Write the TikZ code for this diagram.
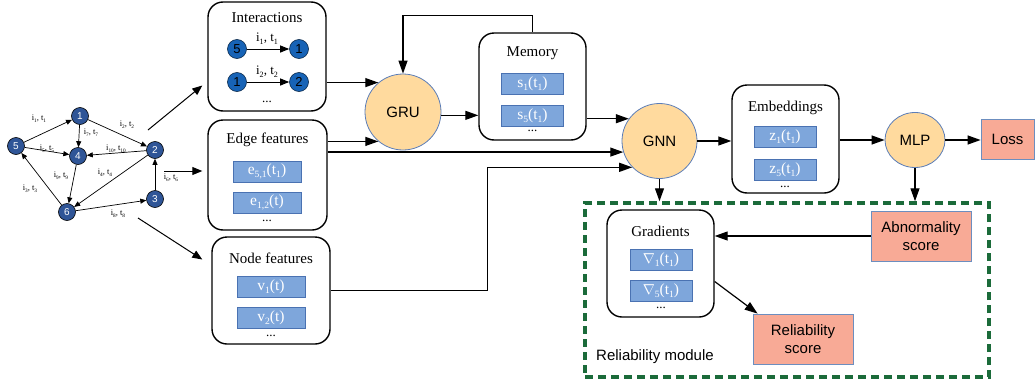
\documentclass[tikz,border=0pt]{standalone}
\usepackage{fontspec}
\setmainfont{Liberation Serif}
\setsansfont{Liberation Sans}
\usetikzlibrary{arrows.meta,calc,shapes.geometric}

\definecolor{featfill}{HTML}{7EA6DB}
\definecolor{featline}{HTML}{4A72B2}
\definecolor{opfill}{HTML}{FFDA9E}
\definecolor{opline}{HTML}{5B7DB8}
\definecolor{scorefill}{HTML}{F8AA96}
\definecolor{scoreline}{HTML}{6C8EBF}
\definecolor{gnode}{HTML}{2F5597}
\definecolor{inode}{HTML}{1763B6}
\definecolor{modgreen}{HTML}{1B6B3A}

% low, small subscript
\newcommand\sbx[1]{\raisebox{-0.45ex}{\scalebox{0.62}{#1}}}

\tikzset{
  panel/.style={draw, line width=1.4pt, rounded corners=15pt, fill=white},
  ptitle/.style={font=\fontsize{15}{18}\selectfont, inner sep=0pt},
  feat/.style={draw=featline, line width=0.8pt, fill=featfill, text=white,
    font=\fontsize{15.5}{18}\selectfont, minimum width=62, minimum height=21, inner sep=0pt},
  op/.style={circle, draw=opline, line width=0.8pt, fill=opfill, minimum size=76,
    inner sep=0pt, font=\sffamily\fontsize{15}{18}\selectfont},
  score/.style={draw=scoreline, line width=0.8pt, fill=scorefill, minimum width=100,
    minimum height=50, align=center, font=\sffamily\fontsize{15}{18}\selectfont},
  gv/.style={circle, draw=black, line width=0.6pt, fill=gnode, text=white,
    minimum size=17, inner sep=0pt, font=\sffamily\fontsize{10}{12}\selectfont},
  iv/.style={circle, draw=black!60!inode, line width=0.6pt, fill=inode,
    minimum size=19, inner sep=0pt, font=\sffamily\fontsize{13}{15}\selectfont},
  elab/.style={font=\fontsize{8.5}{10}\selectfont, inner sep=0.5pt},
  ilab/.style={font=\fontsize{13}{15}\selectfont, inner sep=0pt},
  dotsl/.style={font=\fontsize{13}{15}\selectfont, inner sep=0pt},
  arr/.style={line width=1.2pt, -{Triangle[length=13pt,width=9pt]}},
  iarr/.style={line width=0.9pt, -{Triangle[length=9pt,width=7pt]}},
  garr/.style={line width=0.7pt, -{Triangle[length=6pt,width=5pt]}},
  modbox/.style={draw=modgreen, line width=3.5pt, dash pattern=on 8pt off 5pt},
}

\begin{document}
\begin{tikzpicture}[x=1pt, y=-1pt]
\path[use as bounding box] (0,0) rectangle (1036,383);

% ---------- temporal graph ----------
\node[gv] (n1) at (80,116) {1};
\node[gv] (n2) at (155,150) {2};
\node[gv] (n3) at (155,199) {3};
\node[gv] (n4) at (78,156) {4};
\node[gv] (n5) at (16,146) {5};
\node[gv] (n6) at (67,212) {6};

\draw[garr] (n5) -- (n1);
\draw[garr] (n1) -- (n2);
\draw[garr] (n1) -- (n4);
\draw[garr] (n5) -- (n4);
\draw[garr] (n2) -- (n4);
\draw[garr] (n2) -- (n6);
\draw[garr] (n4) -- (n6);
\draw[garr] (n6) -- (n5);
\draw[garr] (n3) -- (n2);
\draw[garr] (n6) -- (n3);

\node[elab] (l1) at (39,119) {i\sbx{1}, t\sbx{1}};
\node[elab] (l2) at (127,125) {i\sbx{2}, t\sbx{2}};
\node[elab] (l7) at (91,133) {i\sbx{7}, t\sbx{7}};
\node[elab] (l5) at (47,149) {i\sbx{5}, t\sbx{5}};
\node[elab] (l10) at (116,149) {i\sbx{10}, t\sbx{10}};
\node[elab] (l9) at (61,176) {i\sbx{9}, t\sbx{9}};
\node[elab] (l4) at (105,173) {i\sbx{4}, t\sbx{4}};
\node[elab] (l3) at (30,189) {i\sbx{3}, t\sbx{3}};
\node[elab] (l6) at (171,178) {i\sbx{6}, t\sbx{6}};
\node[elab] (l8) at (118,214) {i\sbx{8}, t\sbx{8}};

% ---------- input panels ----------
\node[panel, minimum width=118, minimum height=109] (inter) at (267,56.5) {};
\node[ptitle] (intert) at (267,18) {Interactions};
\node[iv] (a5) at (237,49) {5};
\node[iv] (a1) at (299,49) {1};
\node[iv] (b1) at (237,82) {1};
\node[iv] (b2) at (299,82) {2};
\draw[iarr] (a5) -- (a1);
\draw[iarr] (b1) -- (b2);
\node[ilab] (la) at (267,39) {i\sbx{1}, t\sbx{1}};
\node[ilab] (lb) at (267,72) {i\sbx{2}, t\sbx{2}};
\node[dotsl] (interd) at (267,102) {...};

\node[panel, minimum width=119, minimum height=110] (edge) at (267.5,175) {};
\node[ptitle] (edget) at (267.5,140) {Edge features};
\node[feat, minimum width=68] (e51) at (267,171.5) {e\sbx{5,1}(t\sbx{1})};
\node[feat, minimum width=68] (e12) at (267,202.5) {e\sbx{1,2}(t)};
\node[dotsl] (edged) at (267,221) {...};

\node[panel, minimum width=118, minimum height=107] (nodef) at (271,290.5) {};
\node[ptitle] (nodeft) at (271,258) {Node features};
\node[feat, minimum width=68] (v1) at (271,286.5) {v\sbx{1}(t)};
\node[feat, minimum width=68] (v2) at (271,318) {v\sbx{2}(t)};
\node[dotsl] (nodefd) at (271,336) {...};

% arrows from the graph to the panels
\coordinate (g1) at (148,130);
\coordinate (g2) at (164,171);
\coordinate (g3) at (138,218);
\draw[line width=1pt, -{Triangle[length=10pt,width=8pt]}] (g1) -- ($(inter.west)+(-5,29)$);
\draw[line width=1pt, -{Triangle[length=10pt,width=8pt]}] (g2) -- ($(edge.west)+(-5,-4)$);
\draw[line width=1pt, -{Triangle[length=10pt,width=8pt]}] (g3) -- ($(nodef.west)+(-9,-31)$);

% ---------- memory update ----------
\node[op] (gru) at (403,112) {GRU};
\node[panel, minimum width=107, minimum height=107] (mem) at (532.5,86.5) {};
\node[ptitle] (memt) at (532.5,53) {Memory};
\node[feat] (s1) at (532.5,83.5) {s\sbx{1}(t\sbx{1})};
\node[feat] (s5) at (532.5,115.5) {s\sbx{5}(t\sbx{1})};
\node[dotsl] (memd) at (532.5,131) {...};

\draw[arr] (inter.east |- gru.130) -- (gru.130);
\draw[arr] (edge.east |- gru.230) -- (gru.230);
\draw[arr] (gru.-5) -- (gru.-5 -| mem.west);
\draw[arr] (mem.north) -- ++(0,-17) -| (gru.north);

% ---------- embedding ----------
\node[op, minimum size=75] (gnn) at (659.5,141) {GNN};
\draw[arr] (mem.east |- gnn.144) -- (gnn.144);
\draw[arr] (edge.east |- gnn.197) -- (gnn.197);
\draw[arr] (nodef.east) -- ++(157,0) |- (gnn.224);

\node[panel, minimum width=107, minimum height=108] (emb) at (785.5,139) {};
\node[ptitle] (embt) at (785.5,108) {Embeddings};
\node[feat] (z1) at (785,136.5) {z\sbx{1}(t\sbx{1})};
\node[feat] (z5) at (785,169.5) {z\sbx{5}(t\sbx{1})};
\node[dotsl] (embd) at (785,187) {...};
\draw[arr] (gnn.east) -- (gnn.east -| emb.west);

\node[op, ellipse, minimum width=60, minimum height=55] (mlp) at (915,140) {MLP};
\draw[arr] (emb.east |- mlp.west) -- (mlp.west);

\node[score, minimum width=53, minimum height=40] (loss) at (1007.5,139) {Loss};
\draw[arr] (mlp.east) -- (mlp.east -| loss.west);

% ---------- reliability module ----------
\node[modbox, minimum width=404, minimum height=174, inner sep=0pt] (mod) at (787,290) {};
\node[font=\sffamily\fontsize{15}{18}\selectfont, anchor=west, inner sep=0pt] (modt) at (596,357) {Reliability module};

\draw[arr] (gnn.south) -- (gnn.south |- mod.north);
\draw[arr] (mlp.south) -- (mlp.south |- mod.north);

\node[panel, minimum width=107, minimum height=107] (grad) at (660.5,263.5) {};
\node[ptitle] (gradt) at (660.5,231) {Gradients};
\node[feat] (d1) at (661,260) {$\nabla$\sbx{1}(t\sbx{1})};
\node[feat] (d5) at (661,291) {$\nabla$\sbx{5}(t\sbx{1})};
\node[dotsl] (gradd) at (661,308) {...};

\node[score] (abn) at (921,236) {Abnormality\\score};
\node[score] (rel) at (803,339) {Reliability\\score};

\draw[arr] (abn.west) -- (abn.west -| grad.east);
\draw[arr] ($(grad.east)+(0,18)$) -- ($(rel.north west)+(5,0)$);
\end{tikzpicture}
\end{document}
